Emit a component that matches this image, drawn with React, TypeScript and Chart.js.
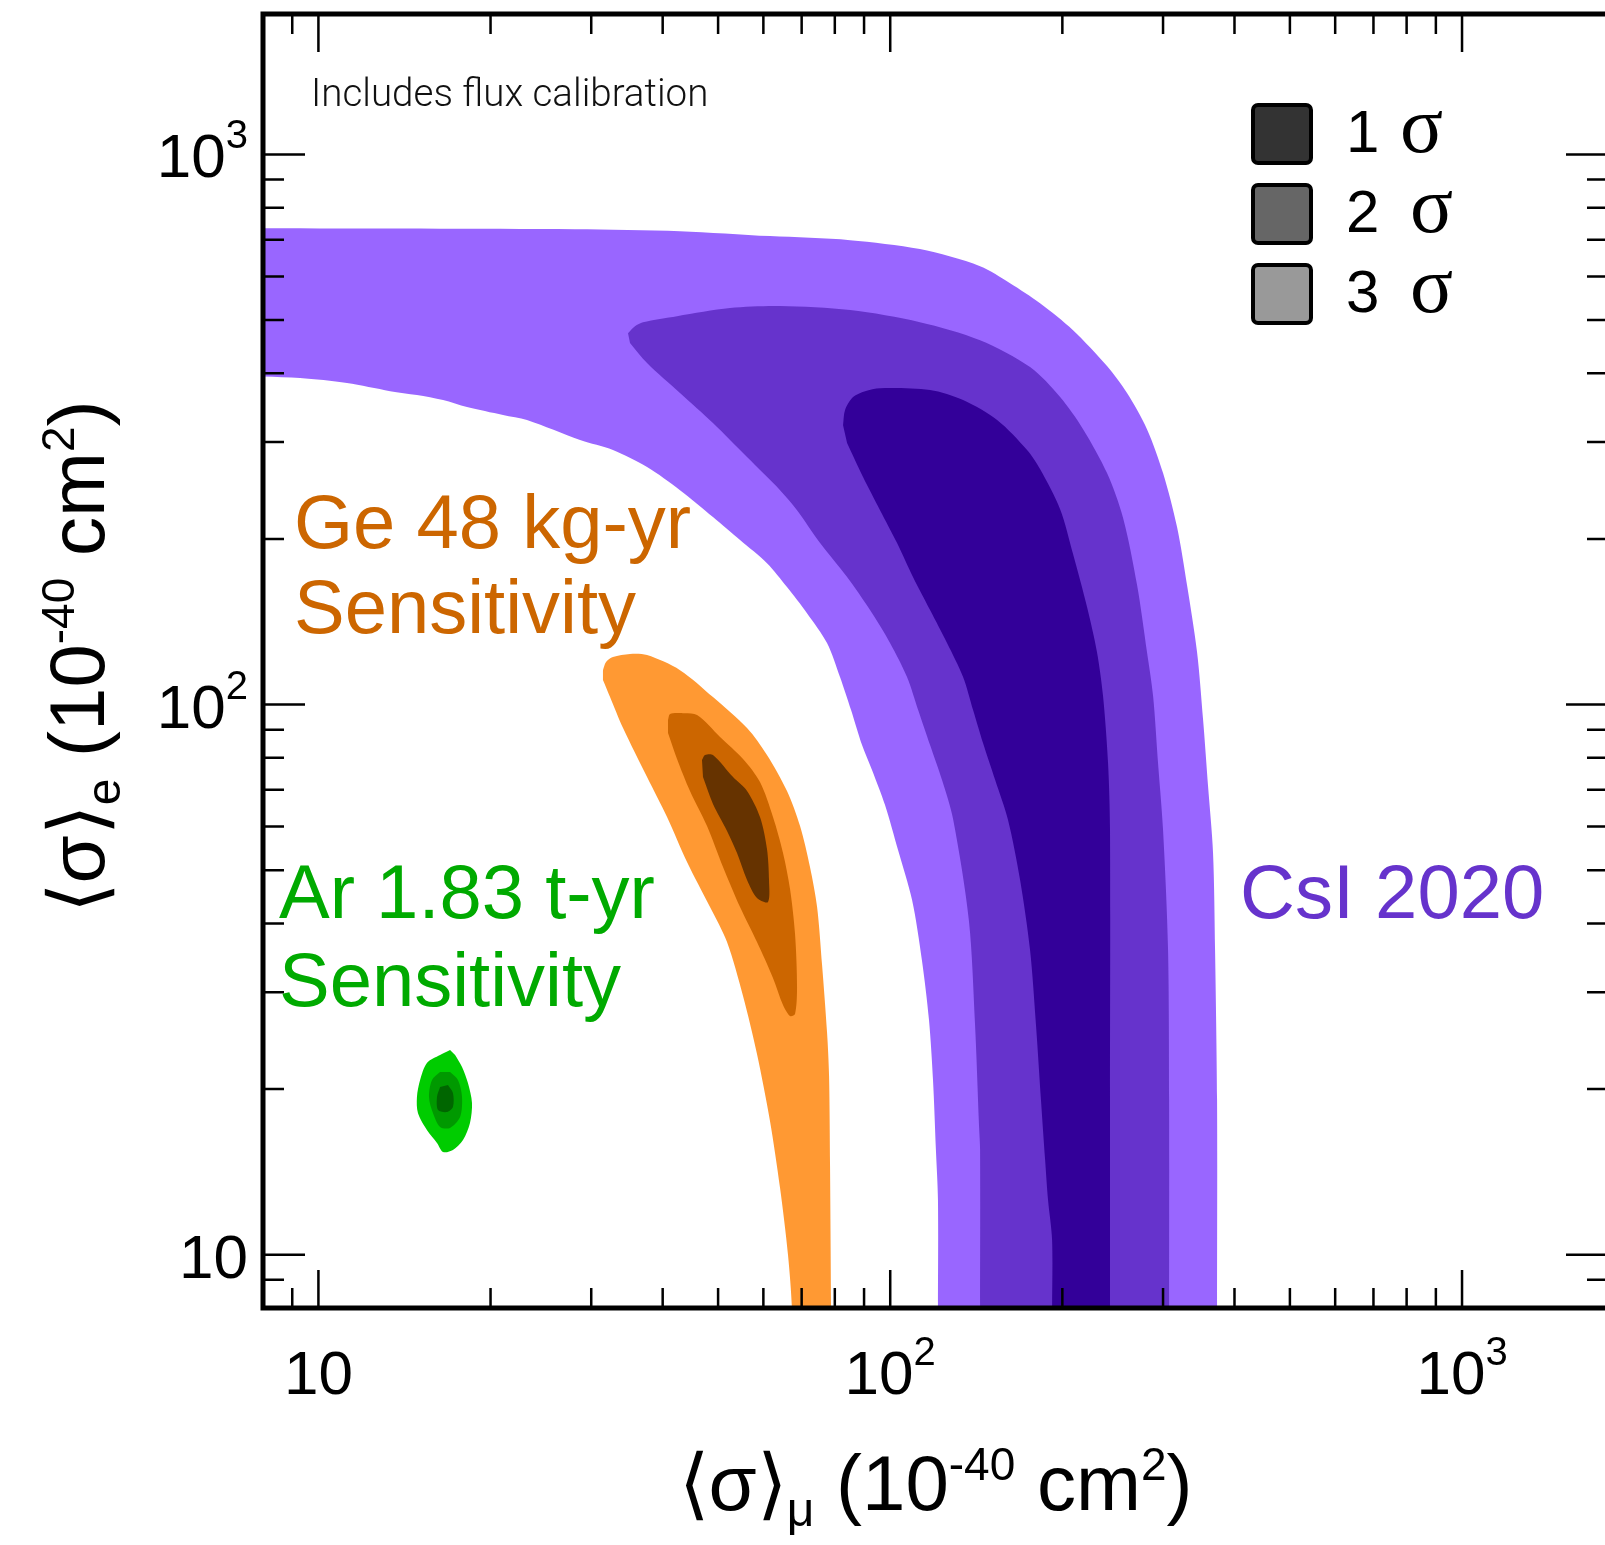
import React, { useEffect, useRef } from 'react';
import { Chart, registerables } from 'chart.js';

Chart.register(...registerables);

const CANVAS_W = 1640;
const CANVAS_H = 1545;

// ---- axes ----
const AXIS_MIN = 8;
const AXIS_MAX = 1800;
const MAJOR_TICKS = [10, 100, 1000];
const MINOR_TICKS = [8, 9, 20, 30, 40, 50, 60, 70, 80, 90, 200, 300, 400, 500, 600, 700, 800, 900];
const TICK_BASES = ['10', '10', '10'];
const TICK_EXPONENTS = ['', '2', '3'];

// ---- CsI 2020 contours (x = <sigma>_mu, y = <sigma>_e) ----
const CSI_3S_X = [7.59, 28.1, 42.89, 61.62, 85.07, 112.7, 143.6, 162.0, 182.8, 208.8, 239.4, 259.5, 281.2, 300.0, 317.4, 330.4, 344.0, 352.4, 359.6, 366.9, 369.9, 372.9, 372.9, 372.9,
  121.2, 121.2, 121.2, 120.2, 118.8, 116.9, 113.6, 109.2, 103.2, 97.93, 92.93, 89.27, 85.41, 81.69, 77.53, 71.52, 65.99, 60.88, 54.62, 48.98, 42.89, 37.56, 32.74, 28.68, 23.16, 21.03, 18.19, 16.52, 14.87, 13.35, 11.22, 9.287, 7.59];
const CSI_3S_Y = [734.6, 731.5, 725.4, 710.4, 698.6, 672.8, 626.5, 583.5, 536.6, 479.3, 412.3, 368.3, 316.7, 263.5, 210.2, 164.9, 124.6, 94.1, 71.08, 53.71, 35.79, 19.1, 7.9, 6,
  6, 7.9, 12.57, 15.5, 20.77, 26.7, 34.32, 44.12, 54.39, 65.66, 76.03, 84.41, 97.72, 112.2, 129.4, 146.6, 163.5, 180.7, 199.1, 219.2, 245.3, 270.2, 290.1, 302.5, 328.9, 335.9, 347.3, 357.6, 365.2, 371.3, 384.0, 392.1, 395.4];

const CSI_2S_X = [34.79, 35.78, 36.95, 42.38, 52.46, 64.17, 85.07, 112.7, 143.6, 175.6, 198.2, 217.4, 239.4, 255.4, 270.2, 281.2, 288.2, 294.0, 300.0, 306.1, 307.4, 307.4, 307.4,
  143.6, 143.6, 143.6, 143.0, 140.7, 137.3, 128.8, 123.2, 117.4, 111.9, 107.0, 99.92, 92.19, 84.05, 75.4, 68.71, 64.17, 56.18, 48.98, 42.89, 37.56, 35.07];
const CSI_2S_Y = [473.3, 487.4, 495.6, 508.2, 525.6, 530.0, 521.2, 495.6, 459.6, 410.6, 362.2, 316.7, 263.5, 218.3, 164.9, 124.6, 103.6, 78.29, 59.13, 35.79, 19.1, 7.9, 6,
  6, 7.9, 15.5, 17.14, 26.26, 40.41, 61.92, 72.89, 84.41, 97.72, 112.2, 129.4, 148.5, 170.5, 196.6, 225.6, 245.3, 281.7, 324.8, 368.3, 417.5, 454.0];

const CSI_1S_X = [82.7, 83.37, 86.1, 90.36, 95.98, 117.4, 134.1, 153.8, 173.5, 182.8, 198.2, 208.8, 220.9, 229.9, 235.6, 240.4, 242.3, 242.3, 242.3, 242.3,
  191.9, 191.9, 191.9, 188.8, 186.6, 183.5, 179.8, 175.6, 168.7, 160.7, 152.6, 145.3, 139.6, 134.1, 125.7, 117.4, 109.6, 102.8, 95.98, 89.63, 84.05];
const CSI_1S_Y = [322.0, 343.0, 362.2, 371.3, 376.0, 372.9, 357.6, 328.9, 290.1, 267.9, 226.5, 187.7, 150.4, 124.6, 103.6, 78.29, 59.13, 19.1, 7.9, 6,
  6, 7.9, 10.63, 12.57, 14.86, 19.1, 26.26, 35.79, 47.97, 61.66, 72.89, 85.11, 97.72, 112.2, 129.4, 148.5, 170.5, 196.6, 225.6, 259.1, 298.7];

// ---- Ge 48 kg-yr sensitivity contours ----
const GE_3S_X = [31.45, 31.84, 32.74, 35.07, 37.56, 42.89, 48.98, 56.18, 60.88, 65.99, 69.55, 72.39, 74.49, 76.0, 77.53, 78.17, 78.48, 78.8, 78.8,
  67.34, 67.34, 66.26, 64.17, 61.62, 58.48, 55.28, 51.83, 48.4, 44.12, 40.71, 37.56, 34.1, 32.36, 31.45];
const GE_3S_Y = [115.5, 119.5, 122.0, 123.6, 123.0, 115.5, 103.2, 90.63, 80.96, 69.63, 60.13, 50.66, 42.84, 33.61, 25.39, 21.12, 14.5, 7.9, 6,
  6, 7.9, 9.987, 13.22, 17.5, 23.16, 29.52, 37.0, 42.84, 51.73, 62.43, 73.81, 90.63, 103.2, 110.8];

const GE_2S_X = [40.87, 41.2, 42.89, 45.93, 50.39, 55.28, 59.19, 62.37, 64.94, 66.8, 68.16, 68.71, 68.16, 66.8, 64.94, 62.37, 58.48, 54.62, 51.0, 47.82, 44.65, 42.38, 40.87];
const GE_2S_Y = [93.71, 96.09, 96.49, 95.69, 87.29, 79.61, 72.28, 62.43, 53.71, 46.19, 38.28, 30.65, 27.38, 27.15, 28.43, 31.84, 37.0, 42.84, 50.66, 60.13, 69.63, 79.61, 88.76];

const GE_1S_X = [46.86, 47.44, 48.98, 53.1, 56.18, 59.19, 60.88, 61.38, 61.13, 58.48, 56.18, 53.96, 51.83, 48.98, 47.05];
const GE_1S_Y = [79.28, 80.96, 80.96, 73.81, 69.63, 62.43, 54.62, 47.97, 43.75, 44.49, 47.97, 53.71, 58.89, 65.93, 73.81];

// ---- Ar 1.83 t-yr sensitivity contours ----
const AR_3S_X = [16.99, 16.32, 15.48, 15.06, 14.87, 14.93, 15.48, 16.12, 16.52, 17.19, 17.9, 18.41, 18.56, 18.26, 17.83, 17.34];
const AR_3S_Y = [23.55, 23.07, 22.31, 20.77, 19.35, 18.09, 16.85, 15.96, 15.37, 15.5, 16.16, 17.35, 18.87, 20.51, 21.94, 23.07];

const AR_2S_X = [16.32, 15.8, 15.61, 15.86, 16.32, 16.99, 17.69, 17.83, 17.54, 16.99];
const AR_2S_Y = [21.48, 20.77, 19.35, 18.09, 17.07, 17.0, 17.79, 19.35, 20.77, 21.48];

const AR_1S_X = [16.32, 16.12, 16.19, 16.79, 17.19, 17.19, 16.85];
const AR_1S_Y = [20.17, 19.35, 18.32, 18.17, 18.55, 19.67, 20.34];

// ---- colours ----
const CSI_COLORS = ['#330099', '#6633cc', '#9966ff'];
const GE_COLORS = ['#663300', '#cc6600', '#ff9933'];
const AR_COLORS = ['#006600', '#009900', '#00cc00'];

// ---- texts ----
const NOTE_TEXT = 'Includes flux calibration';
const GE_LABEL = ['Ge 48 kg-yr', 'Sensitivity'];
const AR_LABEL = ['Ar 1.83 t-yr', 'Sensitivity'];
const CSI_LABEL = 'CsI 2020';
const LEGEND_NUMBERS = ['1', '2', '3'];
const LEGEND_FILLS = ['#333333', '#666666', '#999999'];

const FONT_SANS = '"Liberation Sans", Arial, Helvetica, sans-serif';
const FONT_SERIF = '"Liberation Serif", "Times New Roman", serif';

type Part = { t: string; size: number; dy?: number; family?: string; weight?: string };

function drawRich(ctx: CanvasRenderingContext2D, parts: Part[], x: number, y: number, align: 'left' | 'center' | 'right') {
  const fontOf = (p: Part) => `${p.weight || 'normal'} ${p.size}px ${p.family || FONT_SANS}`;
  let total = 0;
  const widths = parts.map((p) => {
    ctx.font = fontOf(p);
    const w = ctx.measureText(p.t).width;
    total += w;
    return w;
  });
  let cx = align === 'center' ? x - total / 2 : align === 'right' ? x - total : x;
  ctx.textAlign = 'left';
  ctx.textBaseline = 'alphabetic';
  parts.forEach((p, i) => {
    ctx.font = fontOf(p);
    ctx.fillText(p.t, cx, y + (p.dy || 0));
    cx += widths[i];
  });
}

function poly(xs: number[], ys: number[]) {
  return xs.map((x, i) => ({ x, y: ys[i] }));
}

function region(label: string, xs: number[], ys: number[], color: string, order: number) {
  return {
    label,
    data: poly(xs, ys),
    backgroundColor: color,
    borderColor: color,
    borderWidth: 0,
    pointRadius: 0,
    pointHoverRadius: 0,
    tension: 0.3,
    fill: 'shape',
    order,
  };
}

const decorPlugin = {
  id: 'decor',
  afterDraw(chart: any) {
    const ctx: CanvasRenderingContext2D = chart.ctx;
    const { left, right, top, bottom } = chart.chartArea;
    const xs = chart.scales.x;
    const ys = chart.scales.y;
    ctx.save();

    // inward ticks on all four sides
    ctx.strokeStyle = '#000';
    ctx.lineWidth = 2.5;
    ctx.beginPath();
    for (const t of xs.ticks) {
      const px = xs.getPixelForValue(t.value);
      if (px < left + 1 || px > right - 1) continue;
      const len = t.major ? 38 : 20;
      ctx.moveTo(px, bottom); ctx.lineTo(px, bottom - len);
      ctx.moveTo(px, top); ctx.lineTo(px, top + len);
    }
    for (const t of ys.ticks) {
      const py = ys.getPixelForValue(t.value);
      if (py < top + 1 || py > bottom - 1) continue;
      const len = t.major ? 42 : 21;
      ctx.moveTo(left, py); ctx.lineTo(left + len, py);
      ctx.moveTo(right, py); ctx.lineTo(right - len, py);
    }
    ctx.stroke();

    // frame
    ctx.lineWidth = 5;
    ctx.strokeRect(left, top, right - left, bottom - top);

    // tick labels
    ctx.fillStyle = '#000';
    MAJOR_TICKS.forEach((v, i) => {
      const parts: Part[] = [{ t: TICK_BASES[i], size: 62 }];
      if (TICK_EXPONENTS[i]) parts.push({ t: TICK_EXPONENTS[i], size: 40, dy: -29 });
      const px = xs.getPixelForValue(v);
      drawRich(ctx, parts, px, bottom + 86, 'center');
      const py = ys.getPixelForValue(v);
      drawRich(ctx, parts, left - 15, py + 23, 'right');
    });

    // axis titles
    const xTitle: Part[] = [
      { t: '\u27E8\u03C3\u27E9', size: 78 },
      { t: '\u03BC', size: 48, dy: 16 },
      { t: ' (10', size: 78 },
      { t: '-40', size: 46, dy: -30 },
      { t: ' cm', size: 78 },
      { t: '2', size: 46, dy: -30 },
      { t: ')', size: 78 },
    ];
    drawRich(ctx, xTitle, (left + right) / 2, 1510, 'center');

    const yTitle: Part[] = [
      { t: '\u27E8\u03C3\u27E9', size: 78 },
      { t: 'e', size: 48, dy: 16 },
      { t: ' (10', size: 78 },
      { t: '-40', size: 46, dy: -30 },
      { t: ' cm', size: 78 },
      { t: '2', size: 46, dy: -30 },
      { t: ')', size: 78 },
    ];
    ctx.save();
    ctx.translate(104, 657);
    ctx.rotate(-Math.PI / 2);
    drawRich(ctx, yTitle, 0, 0, 'center');
    ctx.restore();

    // annotations
    ctx.textAlign = 'left';
    ctx.textBaseline = 'alphabetic';
    ctx.fillStyle = '#111';
    ctx.font = `300 38.5px Roboto, ${FONT_SANS}`;
    ctx.fillText(NOTE_TEXT, 311, 106);

    ctx.font = `76px ${FONT_SANS}`;
    ctx.fillStyle = '#cc6600';
    ctx.fillText(GE_LABEL[0], 294, 548);
    ctx.fillText(GE_LABEL[1], 294, 633);
    ctx.fillStyle = '#00aa00';
    ctx.fillText(AR_LABEL[0], 279, 918);
    ctx.fillText(AR_LABEL[1], 279, 1006);
    ctx.fillStyle = '#6633cc';
    ctx.fillText(CSI_LABEL, 1240, 918);

    // legend
    LEGEND_NUMBERS.forEach((n, i) => {
      const by = 105 + i * 80;
      ctx.beginPath();
      if ((ctx as any).roundRect) (ctx as any).roundRect(1253, by, 58, 58, 5);
      else ctx.rect(1253, by, 58, 58);
      ctx.fillStyle = LEGEND_FILLS[i];
      ctx.fill();
      ctx.lineWidth = 4;
      ctx.strokeStyle = '#000';
      ctx.stroke();
      ctx.fillStyle = '#000';
      ctx.font = `60px ${FONT_SANS}`;
      ctx.fillText(n, 1346, by + 47);
      ctx.font = `80px ${FONT_SERIF}`;
      ctx.fillText('\u03C3', 1400 + (i > 0 ? 10 : 0), by + 47);
    });

    ctx.restore();
  },
};

export default function App() {
  const canvasRef = useRef<HTMLCanvasElement | null>(null);

  useEffect(() => {
    const canvas = canvasRef.current;
    if (!canvas) return;
    const tickList = [...MINOR_TICKS, ...MAJOR_TICKS].sort((a, b) => a - b);
    const buildTicks = (scale: any) => {
      scale.ticks = tickList.map((v) => ({ value: v, major: MAJOR_TICKS.includes(v) }));
    };

    const chart = new Chart(canvas, {
      type: 'line',
      data: {
        datasets: [
          region('CsI 1σ', CSI_1S_X, CSI_1S_Y, CSI_COLORS[0], 1),
          region('CsI 2σ', CSI_2S_X, CSI_2S_Y, CSI_COLORS[1], 2),
          region('CsI 3σ', CSI_3S_X, CSI_3S_Y, CSI_COLORS[2], 3),
          region('Ge 1σ', GE_1S_X, GE_1S_Y, GE_COLORS[0], 1),
          region('Ge 2σ', GE_2S_X, GE_2S_Y, GE_COLORS[1], 2),
          region('Ge 3σ', GE_3S_X, GE_3S_Y, GE_COLORS[2], 3),
          region('Ar 1σ', AR_1S_X, AR_1S_Y, AR_COLORS[0], 1),
          region('Ar 2σ', AR_2S_X, AR_2S_Y, AR_COLORS[1], 2),
          region('Ar 3σ', AR_3S_X, AR_3S_Y, AR_COLORS[2], 3),
        ] as any,
      },
      options: {
        responsive: false,
        animation: false,
        devicePixelRatio: 1,
        events: [],
        layout: { padding: { top: 14, right: CANVAS_W - 1608, left: 0, bottom: 0 } },
        plugins: {
          legend: { display: false },
          tooltip: { enabled: false },
          title: { display: false },
        },
        scales: {
          x: {
            type: 'logarithmic',
            position: 'bottom',
            min: AXIS_MIN,
            max: AXIS_MAX,
            grid: { display: false },
            border: { display: false },
            ticks: { display: false },
            afterBuildTicks: buildTicks,
            afterFit: (s: any) => { s.height = CANVAS_H - 1308; },
          },
          y: {
            type: 'logarithmic',
            position: 'left',
            min: AXIS_MIN,
            max: AXIS_MAX,
            grid: { display: false },
            border: { display: false },
            ticks: { display: false },
            afterBuildTicks: buildTicks,
            afterFit: (s: any) => { s.width = 263; },
          },
        },
      } as any,
      plugins: [decorPlugin],
    });

    return () => chart.destroy();
  }, []);

  return (
    <div style={{ position: 'fixed', left: 0, top: 0, width: 1605, height: 1545, overflow: 'hidden', background: '#fff' }}>
      <canvas ref={canvasRef} width={CANVAS_W} height={CANVAS_H} style={{ display: 'block', width: CANVAS_W, height: CANVAS_H }} />
    </div>
  );
}
